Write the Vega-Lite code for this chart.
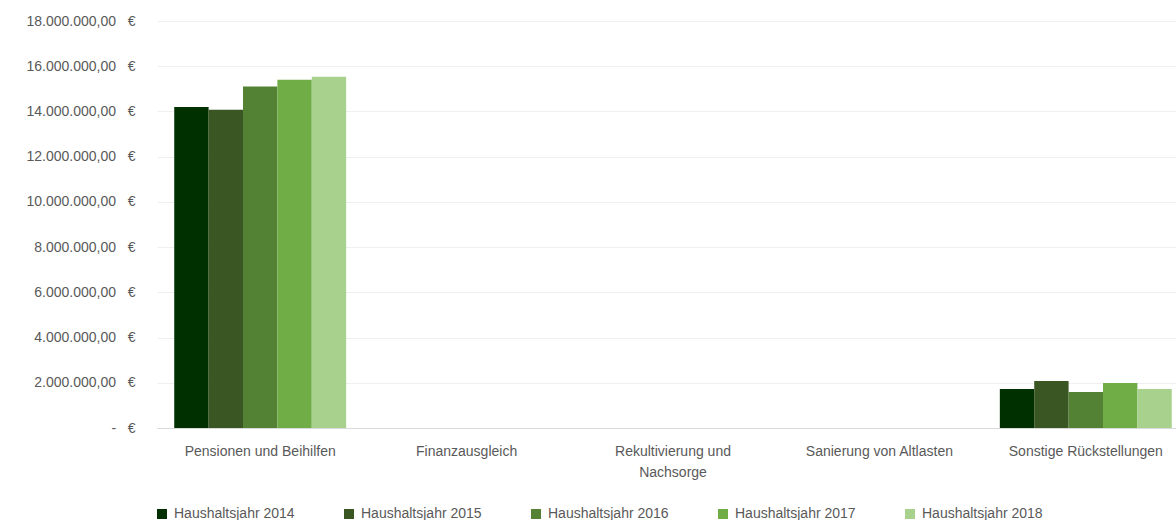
{
  "$schema": "https://vega.github.io/schema/vega-lite/v6.json",
  "autosize": {"type": "none"},
  "padding": {"left": 157, "top": 21, "right": 0, "bottom": 92},
  "width": 1019,
  "height": 407,
  "background": "#ffffff",
  "config": {
    "view": {"stroke": null},
    "locale": {"number": {"decimal": ",", "thousands": ".", "grouping": [3], "currency": ["", " €"]}},
    "font": "Liberation Sans"
  },
  "data": {
    "values": [
      {"kategorie": "Pensionen und Beihilfen", "jahr": "Haushaltsjahr 2014", "wert": 14200000},
      {"kategorie": "Pensionen und Beihilfen", "jahr": "Haushaltsjahr 2015", "wert": 14070000},
      {"kategorie": "Pensionen und Beihilfen", "jahr": "Haushaltsjahr 2016", "wert": 15100000},
      {"kategorie": "Pensionen und Beihilfen", "jahr": "Haushaltsjahr 2017", "wert": 15400000},
      {"kategorie": "Pensionen und Beihilfen", "jahr": "Haushaltsjahr 2018", "wert": 15530000},
      {"kategorie": "Finanzausgleich", "jahr": "Haushaltsjahr 2014", "wert": 0},
      {"kategorie": "Finanzausgleich", "jahr": "Haushaltsjahr 2015", "wert": 0},
      {"kategorie": "Finanzausgleich", "jahr": "Haushaltsjahr 2016", "wert": 0},
      {"kategorie": "Finanzausgleich", "jahr": "Haushaltsjahr 2017", "wert": 0},
      {"kategorie": "Finanzausgleich", "jahr": "Haushaltsjahr 2018", "wert": 0},
      {"kategorie": "Rekultivierung und Nachsorge", "jahr": "Haushaltsjahr 2014", "wert": 0},
      {"kategorie": "Rekultivierung und Nachsorge", "jahr": "Haushaltsjahr 2015", "wert": 0},
      {"kategorie": "Rekultivierung und Nachsorge", "jahr": "Haushaltsjahr 2016", "wert": 0},
      {"kategorie": "Rekultivierung und Nachsorge", "jahr": "Haushaltsjahr 2017", "wert": 0},
      {"kategorie": "Rekultivierung und Nachsorge", "jahr": "Haushaltsjahr 2018", "wert": 0},
      {"kategorie": "Sanierung von Altlasten", "jahr": "Haushaltsjahr 2014", "wert": 0},
      {"kategorie": "Sanierung von Altlasten", "jahr": "Haushaltsjahr 2015", "wert": 0},
      {"kategorie": "Sanierung von Altlasten", "jahr": "Haushaltsjahr 2016", "wert": 0},
      {"kategorie": "Sanierung von Altlasten", "jahr": "Haushaltsjahr 2017", "wert": 0},
      {"kategorie": "Sanierung von Altlasten", "jahr": "Haushaltsjahr 2018", "wert": 0},
      {"kategorie": "Sonstige Rückstellungen", "jahr": "Haushaltsjahr 2014", "wert": 1730000},
      {"kategorie": "Sonstige Rückstellungen", "jahr": "Haushaltsjahr 2015", "wert": 2080000},
      {"kategorie": "Sonstige Rückstellungen", "jahr": "Haushaltsjahr 2016", "wert": 1590000},
      {"kategorie": "Sonstige Rückstellungen", "jahr": "Haushaltsjahr 2017", "wert": 1990000},
      {"kategorie": "Sonstige Rückstellungen", "jahr": "Haushaltsjahr 2018", "wert": 1730000}
    ]
  },
  "mark": {"type": "bar"},
  "encoding": {
    "x": {
      "field": "kategorie",
      "type": "nominal",
      "sort": null,
      "scale": {"range": [0, 1032], "paddingInner": 0.167, "paddingOuter": 0.0835},
      "axis": {
        "title": null,
        "labelAngle": 0,
        "labelFontSize": 14,
        "labelColor": "#595959",
        "labelPadding": 16,
        "labelLineHeight": 21,
        "labelLimit": 300,
        "ticks": false,
        "domainColor": "#d9d9d9",
        "domainWidth": 1,
        "grid": false,
        "labelExpr": "datum.value == 'Rekultivierung und Nachsorge' ? ['Rekultivierung und', 'Nachsorge'] : datum.label"
      }
    },
    "xOffset": {"field": "jahr", "type": "nominal", "scale": {"paddingInner": 0, "paddingOuter": 0}},
    "y": {
      "field": "wert",
      "type": "quantitative",
      "scale": {"domain": [0, 18000000], "nice": false},
      "axis": {
        "title": null,
        "values": [0, 2000000, 4000000, 6000000, 8000000, 10000000, 12000000, 14000000, 16000000, 18000000],
        "labelExpr": "datum.value == 0 ? '-\u00a0\u00a0\u00a0€' : format(datum.value, ',.2f') + '\u00a0\u00a0\u00a0€'",
        "labelFontSize": 14,
        "labelColor": "#595959",
        "labelPadding": 22,
        "ticks": false,
        "domain": false,
        "gridColor": "#efefef",
        "gridWidth": 1
      }
    },
    "color": {
      "field": "jahr",
      "type": "nominal",
      "scale": {
        "domain": ["Haushaltsjahr 2014", "Haushaltsjahr 2015", "Haushaltsjahr 2016", "Haushaltsjahr 2017", "Haushaltsjahr 2018"],
        "range": ["#003000", "#3a5622", "#548235", "#70ad47", "#a9d18e"]
      },
      "legend": {
        "title": null,
        "orient": "none",
        "legendX": -2,
        "legendY": 486,
        "direction": "horizontal",
        "columns": 5,
        "symbolType": "square",
        "symbolSize": 100,
        "symbolStrokeWidth": 0,
        "labelFontSize": 14,
        "labelColor": "#595959",
        "labelOffset": 5,
        "columnPadding": 47,
        "labelLimit": 300
      }
    }
  }
}
